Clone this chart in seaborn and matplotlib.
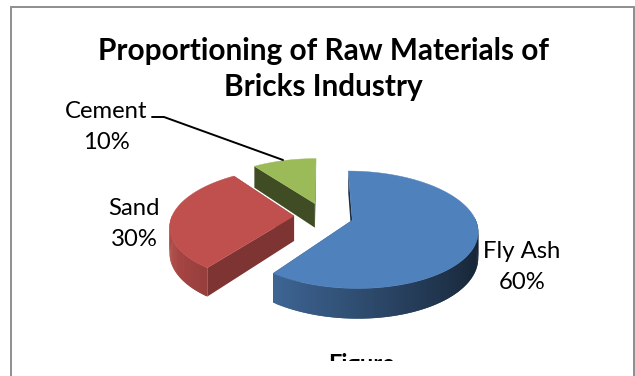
import numpy as np
import matplotlib
matplotlib.use("Agg")
import matplotlib.pyplot as plt
from matplotlib.patches import Rectangle
import seaborn as sns

# Raw material shares, drawn clockwise from twelve o'clock
materials = ["Fly Ash", "Sand", "Cement"]
shares = [60, 30, 10]
title_text = "Proportioning of Raw Materials of\nBricks Industry"
caption_text = "Figure"

sns.set_theme(style="white")
plt.rcParams["font.family"] = ["Lato", "DejaVu Sans"]
palette = sns.color_palette(["#4F81BD", "#C0504D", "#9BBB59"])
cut_shade = [0.35, 0.65, 0.41]
label_pos = [(522, 267), (134, 224), (106, 127)]

# Pie projection: centre, radii, wall height and perspective strength in pixels
CX, CY, RX, RY, DEPTH, PERSP = 323.7, 216.0, 122.0, 55.8, 25.0, 0.16

fig = plt.figure(figsize=(6.35, 3.76), dpi=100)
ax = fig.add_axes([0, 0, 1, 1])
wedges, _ = ax.pie(shares, explode=[0.243] * 3, startangle=90, counterclock=False)
geometry = [(w.center, w.r, w.theta1, w.theta2) for w in wedges]
for w in wedges:
    w.remove()
ax.set_aspect("auto")
ax.set_xlim(0, 635)
ax.set_ylim(376, 0)
ax.axis("off")


def project(x, y, drop=0.0):
    """Map pie-plane coordinates to the tilted view, with drop for the wall height."""
    scale = 1.0 / (1.0 + PERSP * np.asarray(y))
    return CX + RX * np.asarray(x) * scale, CY - RY * np.asarray(y) * scale + drop * scale


def shaded(colour, factor):
    return tuple(min(1.0, c * factor) for c in colour)


def draw_slice(geo, colour, cut):
    (c0, c1), r, t1, t2 = geo
    theta = np.radians(np.linspace(t1, t2, 160))
    ax_x, ax_y = c0 + r * np.cos(theta), c1 + r * np.sin(theta)

    # Flat walls along both straight cuts
    for ex, ey in ((ax_x[0], ax_y[0]), (ax_x[-1], ax_y[-1])):
        xs = np.array([c0, ex, ex, c0])
        ys = np.array([c1, ey, ey, c1])
        px, py = project(xs, ys, np.array([0, 0, DEPTH, DEPTH]))
        ax.fill(px, py, facecolor=shaded(colour, cut), edgecolor="none", lw=0, zorder=2)

    # Curved outer wall, lit from the left; each strip overlaps the next to hide seams
    for i in range(len(theta) - 2):
        if np.sin(theta[i]) > 0.02:
            continue
        j = i + 2
        xs = np.array([ax_x[i], ax_x[j], ax_x[j], ax_x[i]])
        ys = np.array([ax_y[i], ax_y[j], ax_y[j], ax_y[i]])
        px, py = project(xs, ys, np.array([0, 0, DEPTH, DEPTH]))
        factor = 0.592 - 0.32 * np.cos(theta[i])
        ax.fill(px, py, facecolor=shaded(colour, factor), edgecolor="none", lw=0, zorder=2)

    # Top face
    px, py = project(np.r_[c0, ax_x], np.r_[c1, ax_y])
    ax.fill(px, py, facecolor=colour, edgecolor=colour, lw=0.3, zorder=3)


# Back slice first so nearer slices paint over it
for i in (2, 1, 0):
    draw_slice(geometry[i], palette[i], cut_shade[i])

# Chart frame, open at the bottom
ax.plot([11, 11, 634, 634], [376, 7, 7, 376], color="#8E8E8E", lw=1.4,
        solid_joinstyle="miter", zorder=1)

ax.text(323, 69, title_text, ha="center", va="center", fontsize=21.4,
        fontweight="bold", color="black", linespacing=1.34, zorder=5)

for name, share, (lx, ly) in zip(materials, shares, label_pos):
    ax.text(lx, ly, f"{name}\n{share}%", ha="center", va="center", fontsize=17.2,
            color="black", linespacing=1.64, zorder=5)

# Leader line from the Cement label to its slice
ax.plot([152, 164, 283], [117, 117, 160], color="black", lw=1.4, zorder=4)

# Caption cut off by the edge of the chart area
caption = ax.text(361, 353, caption_text, ha="center", va="top", fontsize=17,
                  fontweight="bold", color="black", zorder=5)
caption.set_clip_path(Rectangle((300, 340), 130, 21, transform=ax.transData))
caption.set_clip_on(True)

fig.savefig("out.png", dpi=100, facecolor="white")
